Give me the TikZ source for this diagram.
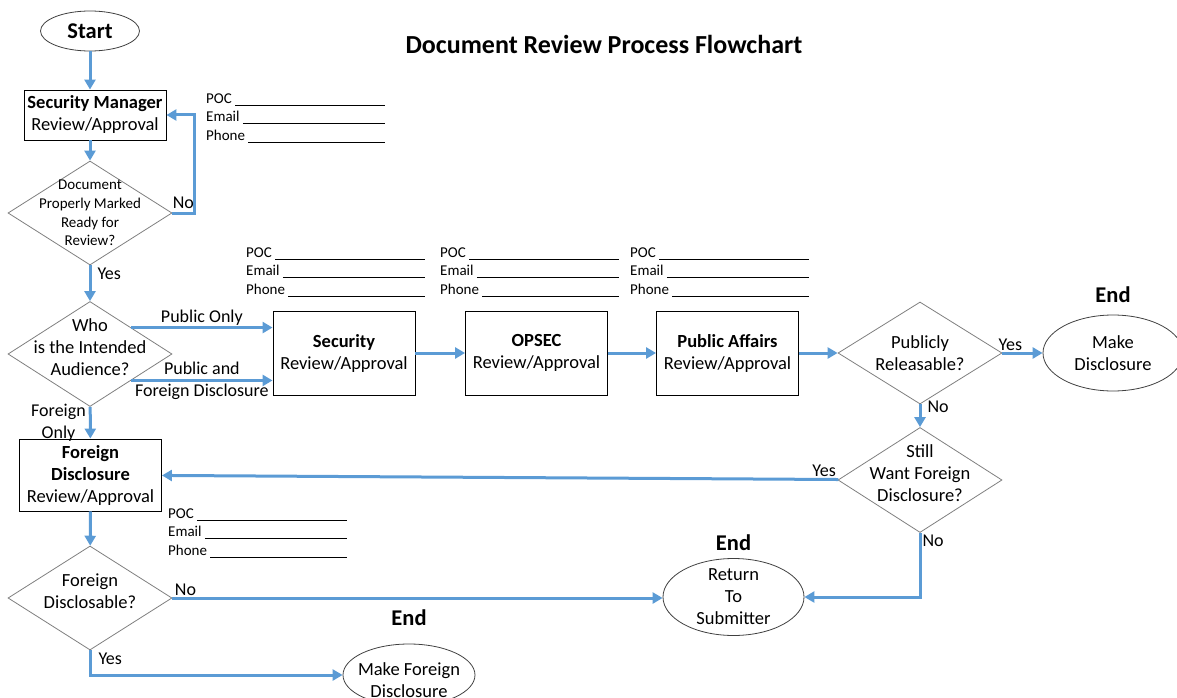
\documentclass[tikz,border=0pt]{standalone}
\usepackage{fontspec}
\setmainfont{Carlito}
\usetikzlibrary{arrows.meta,positioning,shapes.geometric}
\definecolor{flow}{HTML}{5B9BD5}
\definecolor{rim}{HTML}{7F7F7F}

% a label followed by a blank to be filled in by hand
\newcommand{\fillin}[1]{\makebox[179pt][l]{#1\ \leaders\hrule height -1.2pt depth 2pt\hfill}}
\newcommand{\contactlines}{\fillin{POC}\\\fillin{Email}\\\fillin{Phone}}
% extra depth under the last line, lifts the text a little
\newcommand{\lift}{\rule[-14pt]{0pt}{14pt}}

\begin{document}
\begin{tikzpicture}[x=1pt,y=-1pt,
  font=\fontsize{18.5}{22}\selectfont,
  box/.style={draw,line width=0.9pt,align=center,inner sep=2pt,minimum width=142pt},
  dec/.style={diamond,draw=rim,line width=0.8pt,align=center,inner sep=-22pt,
              minimum width=164pt,minimum height=104pt},
  term/.style={ellipse,draw=black!75,line width=0.8pt,align=center,inner sep=-6pt},
  endtag/.style={font=\fontsize{22.5}{26}\selectfont\bfseries,inner sep=0pt},
  contact/.style={anchor=north west,align=left,inner sep=0pt,
                  font=\fontsize{15}{18.5}\selectfont},
  tag/.style={inner sep=1pt,font=\fontsize{18}{22}\selectfont},
  arr/.style={draw=flow,line width=3pt,-{Triangle[length=10pt,width=11pt]}}
]
\useasboundingbox (0,0) rectangle (1177,698);

\node[font=\fontsize{26}{30}\selectfont\bfseries] (title) at (604,44) {Document Review Process Flowchart};

% left column
\node[term,minimum width=99pt,minimum height=40pt,font=\fontsize{22.5}{26}\selectfont\bfseries] (start) at (90,31) {Start};
\node[box,minimum height=50pt] (secmgr) at (95,115) {\textbf{Security Manager}\\Review/Approval};
\node[dec,font=\fontsize{15}{18.7}\selectfont] (marked) at (90,213) {Document\\Properly Marked\\Ready for\\Review?};
\node[dec,minimum height=105pt] (who) at (90,354) {Who\\is the Intended\\Audience?\lift};
\node[box,minimum height=72pt] (fdrev) at (90.5,475) {\textbf{Foreign}\\\textbf{Disclosure}\\Review/Approval};
\node[dec] (fdq) at (90,598) {Foreign\\Disclosable?\lift};

% review chain
\node[box,minimum height=84pt] (secrev) at (344,353) {\textbf{Security}\\Review/Approval};
\node[box,minimum height=84pt] (opsec) at (536.5,353) {\textbf{OPSEC}\\Review/Approval};
\node[box,minimum height=84pt] (parev) at (727.5,353) {\textbf{Public Affairs}\\Review/Approval};
\node[dec,minimum height=102pt] (release) at (920,353) {Publicly\\Releasable?};
\node[dec,minimum height=105pt] (still) at (920,480) {Still\\Want Foreign\\Disclosure?\lift};

% end points
\node[term,minimum width=140pt,minimum height=76pt] (disclose) at (1113,353) {Make\\Disclosure};
\node[term,minimum width=141pt,minimum height=77pt] (return) at (733.5,597) {Return\\To\\Submitter};
\node[term,minimum width=132pt,minimum height=62pt,inner sep=-9pt] (fdmake) at (409,675) {\rule{0pt}{24pt}Make Foreign\\Disclosure};
\node[endtag,above=12pt of disclose] (end1) {End};
\node[endtag,above=7pt of return] (end2) {End};
\node[endtag,above=18pt of fdmake] (end3) {End};

% contact blanks
\node[contact] (poc1) at (206,93.5) {\contactlines};
\node[contact] (poc2) at (246,247.5) {\contactlines};
\node[contact] (poc3) at (440,247.5) {\contactlines};
\node[contact] (poc4) at (630,247.5) {\contactlines};
\node[contact] (poc5) at (168,508.5) {\contactlines};

% flow
\draw[arr] (start) -- (start |- secmgr.north);
\draw[arr] (marked.north |- secmgr.south) -- (marked);
\draw[arr] (marked.east) -- ++(22,0) node[tag,midway,above=2pt] {No} |- (secmgr.east);
\draw[arr] (marked) -- node[tag,pos=0.24,anchor=west,xshift=5pt] {Yes} (who);
\draw[arr] (who.north east) -- node[tag,above] {Public Only} (who.north east -| secrev.west);
\draw[arr] (who.south east) -- node[tag,midway,align=center] {Public and\\Foreign Disclosure} (who.south east -| secrev.west);
\draw[arr] (who) -- node[tag,midway,left=2pt,align=center] {Foreign\\Only} (fdrev);
\draw[arr] (secrev) -- (opsec);
\draw[arr] (opsec) -- (parev);
\draw[arr] (parev) -- (release);
\draw[arr] (release.east) -- node[tag,pos=0.2,above] {Yes} (release.east -| disclose.west);
\draw[arr] (release) -- node[tag,pos=0.1,right=5pt] {No} (still);
\draw[arr] (still) -- node[tag,pos=0,above left] {Yes} (fdrev);
\draw[arr] (still.south) |- node[tag,pos=0,below right] {No} (return.east);
\draw[arr] (fdrev) -- (fdq);
\draw[arr] (fdq.east) -- node[tag,pos=0,above right] {No} (fdq.east -| return.west);
\draw[arr] (fdq.south) |- node[tag,pos=0,anchor=north west,xshift=6pt] {Yes} (fdmake.west);
\end{tikzpicture}
\end{document}
